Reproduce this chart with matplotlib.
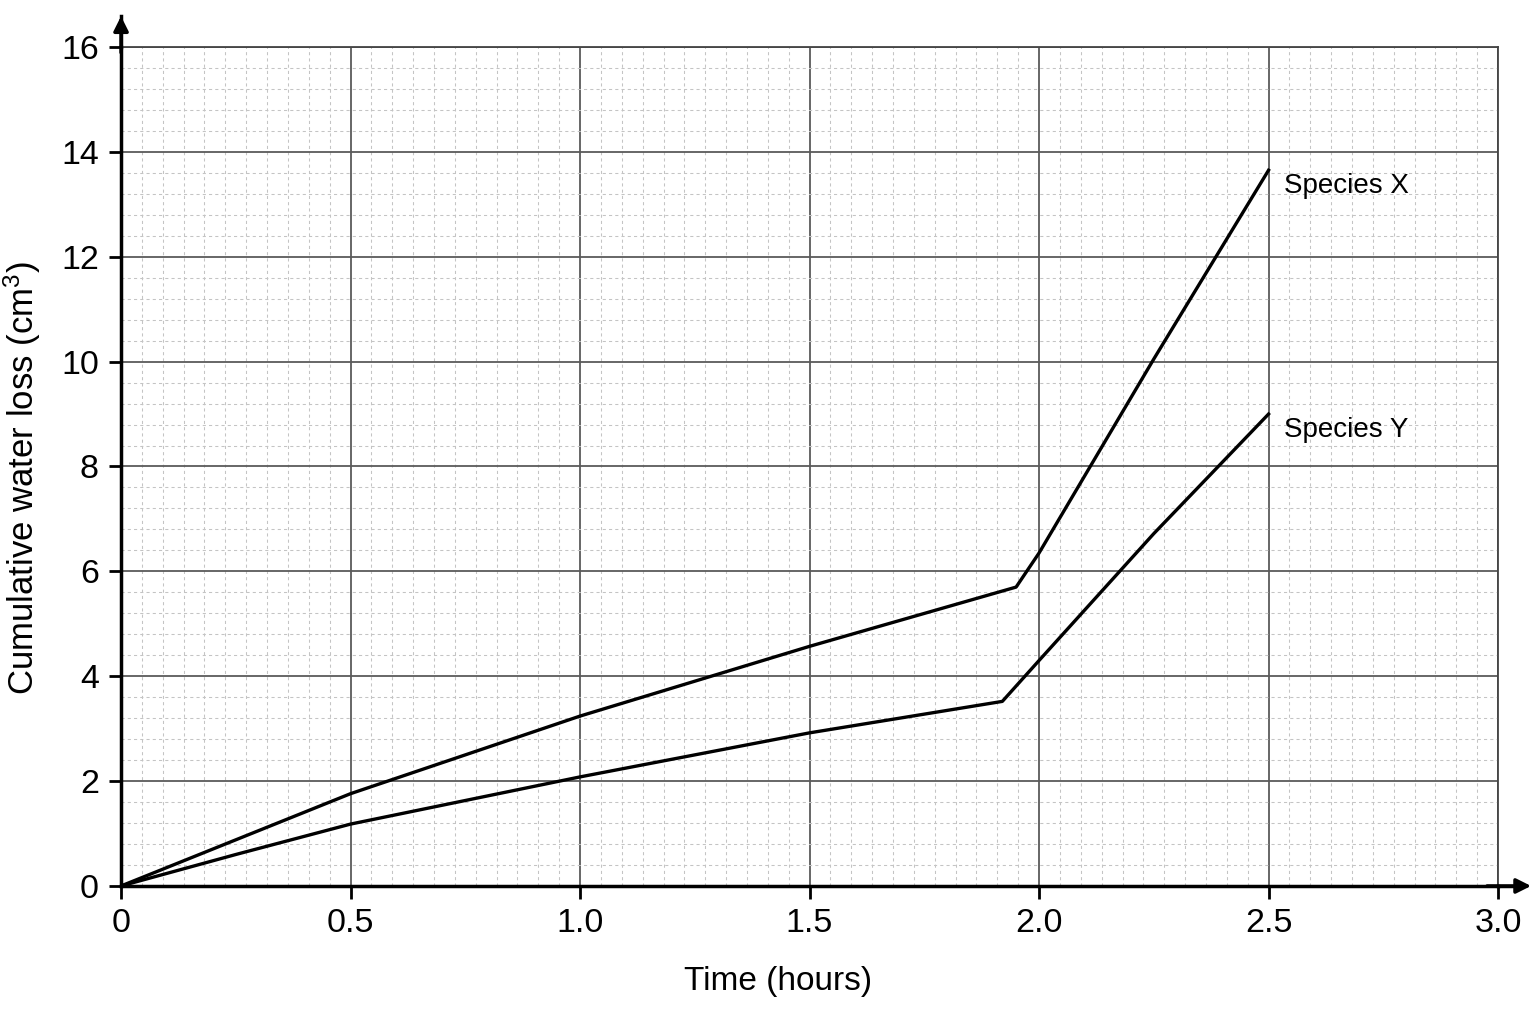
import numpy as np
import matplotlib
matplotlib.use("Agg")
import matplotlib.pyplot as plt
from matplotlib.ticker import MultipleLocator

plt.rcParams['font.family'] = ['Liberation Sans', 'DejaVu Sans']
plt.rcParams['mathtext.fontset'] = 'custom'
plt.rcParams['mathtext.rm'] = 'Liberation Sans'
plt.rcParams['mathtext.default'] = 'regular'

time_x = [0, 0.25, 0.5, 1.0, 1.5, 1.95, 2.0, 2.25, 2.5]
loss_x = [0, 0.88, 1.76, 3.24, 4.57, 5.70, 6.35, 10.05, 13.65]
time_y = [0, 0.25, 0.5, 1.0, 1.5, 1.92, 2.0, 2.25, 2.5]
loss_y = [0, 0.60, 1.18, 2.08, 2.92, 3.52, 4.30, 6.72, 9.00]
series_names = ["Species X", "Species Y"]
x_ticks = [0, 0.5, 1.0, 1.5, 2.0, 2.5, 3.0]
x_tick_labels = ["0", "0.5", "1.0", "1.5", "2.0", "2.5", "3.0"]
y_ticks = [0, 2, 4, 6, 8, 10, 12, 14, 16]

fig = plt.figure(figsize=(15.36, 10.24), dpi=100)
ax = fig.add_axes([0.0788, 0.1348, 0.8965, 0.8193])

ax.set_xlim(0, 3.0)
ax.set_ylim(0, 16)

# graph paper grid
ax.xaxis.set_minor_locator(MultipleLocator(0.5 / 11))
ax.yaxis.set_minor_locator(MultipleLocator(0.4))
ax.grid(which='minor', color='#c4c4c4', lw=0.75, ls=(0, (3, 3)), zorder=0)
ax.grid(which='major', color='#5a5a5a', lw=1.3, zorder=1)
ax.set_axisbelow(True)

ax.set_xticks(x_ticks)
ax.set_xticklabels(x_tick_labels)
ax.set_yticks(y_ticks)
ax.tick_params(which='major', direction='out', length=9, width=2, colors='black',
               labelsize=24.5, pad=7)
ax.tick_params(which='minor', length=0)

for s in ['left', 'bottom']:
    ax.spines[s].set_linewidth(2.5)
    ax.spines[s].set_color('black')
for s in ['top', 'right']:
    ax.spines[s].set_linewidth(1.3)
    ax.spines[s].set_color('#444444')

# arrow heads on the axes
ax.annotate('', xy=(0, 1.04), xycoords='axes fraction', xytext=(0, 0.99),
            arrowprops=dict(arrowstyle='-|>', color='black', lw=2.5, mutation_scale=22),
            annotation_clip=False)
ax.annotate('', xy=(1.026, 0), xycoords='axes fraction', xytext=(0.99, 0),
            arrowprops=dict(arrowstyle='-|>', color='black', lw=2.5, mutation_scale=22),
            annotation_clip=False)
ax.plot([0, 0], [16, 16.6], color='black', lw=2.5, clip_on=False, zorder=5)
ax.plot([3.0, 3.04], [0, 0], color='black', lw=2.5, clip_on=False, zorder=5)

ax.plot(time_x, loss_x, color='black', lw=2.4, zorder=4)
ax.plot(time_y, loss_y, color='black', lw=2.4, zorder=4)

ax.text(time_x[-1] + 0.033, loss_x[-1] - 0.3, series_names[0], fontsize=20,
        va='center', ha='left')
ax.text(time_y[-1] + 0.033, loss_y[-1] - 0.3, series_names[1], fontsize=20,
        va='center', ha='left')

ax.set_xlabel('Time (hours)', fontsize=24)
ax.set_ylabel('Cumulative water loss (cm$^3$)', fontsize=25)
ax.xaxis.set_label_coords(0.477, -0.095)
ax.yaxis.set_label_coords(-0.057, 0.486)

fig.savefig('out.png', dpi=100, facecolor='white')
